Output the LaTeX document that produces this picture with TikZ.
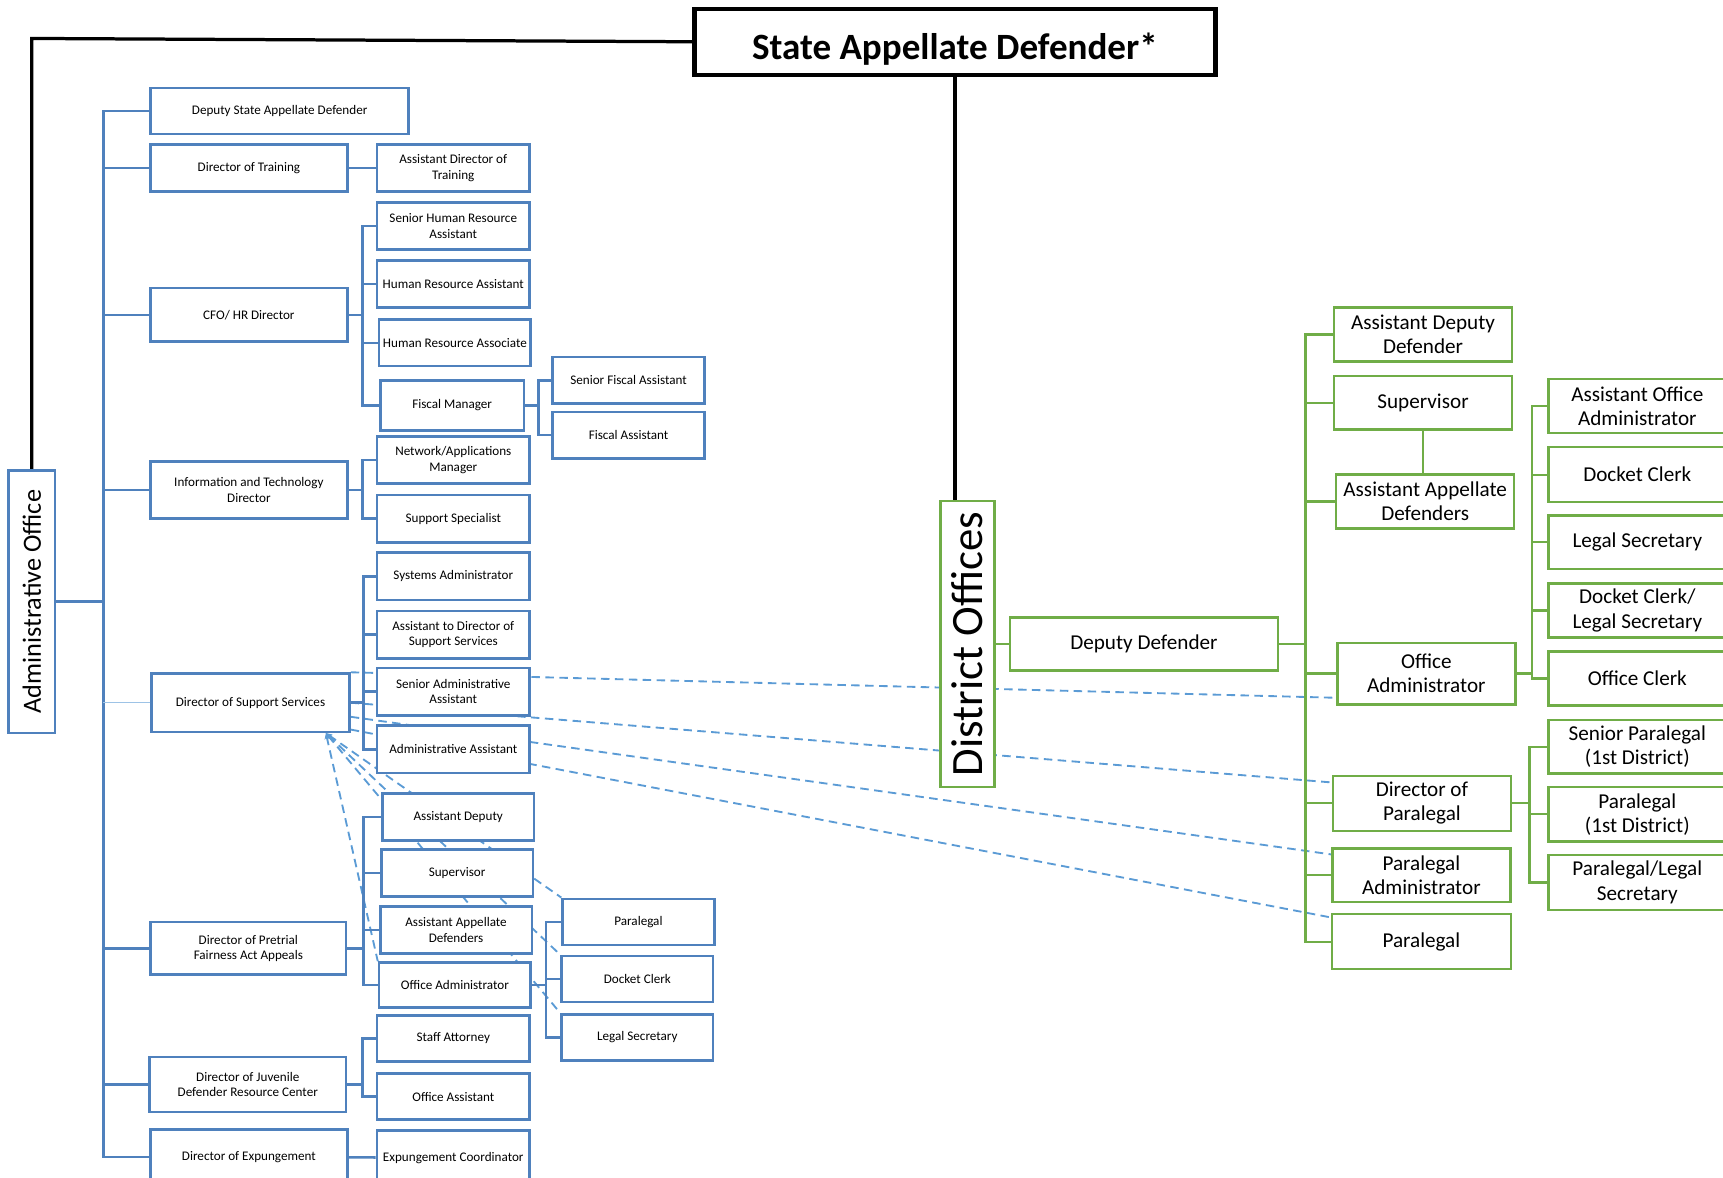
\documentclass[tikz,border=0pt]{standalone}
\usepackage{fontspec}
\setmainfont{Carlito}
\usetikzlibrary{arrows.meta}

\definecolor{boxblue}{RGB}{79,129,189}
\definecolor{dashblue}{RGB}{91,155,213}
\definecolor{lineblue}{RGB}{157,195,230}
\definecolor{boxgreen}{RGB}{112,173,71}

\pgfdeclarelayer{bg}
\pgfsetlayers{bg,main}

\tikzset{
  sz/.style 2 args={minimum width=#1*0.025cm, minimum height=#2*0.025cm},
  sbox/.style={draw=boxblue, line width=1.7pt, fill=white, align=center, inner sep=0.5pt, sz={139}{43}, font=\fontsize{8.5}{10}\selectfont},
  gbox/.style={draw=boxgreen, line width=1.6pt, fill=white, align=center, inner sep=1pt, sz={162}{49}, font=\fontsize{13.7}{15.6}\selectfont},
  bline/.style={draw=boxblue, line width=1.7pt},
  gline/.style={draw=boxgreen, line width=1.5pt},
  kline/.style={draw=black, line width=2.1pt},
  dline/.style={draw=dashblue, line width=1.2pt, dash pattern=on 5.5pt off 3.5pt},
}

\begin{document}
\begin{tikzpicture}[x=0.025cm,y=-0.025cm]
  \useasboundingbox (0,0) rectangle (1568,1072);
  \clip (0,0) rectangle (1568,1072);

  %top
  \node[draw, line width=2.8pt, fill=white, sz={474}{60}, font=\fontsize{24}{28}\selectfont\bfseries] (sad) at (869,38) {\raisebox{-0.4cm}[0pt][0pt]{State Appellate Defender*}};
  \node[sbox, rotate=90, sz={239}{42}, font=\fontsize{17}{20}\selectfont] (adm) at (29,547.5) {Administrative Office};
  \node[gbox, rotate=90, sz={260}{49}, font=\fontsize{29}{32}\selectfont] (dist) at (880.5,586) {District Offices};

  \coordinate (kink) at (29,35);
  \draw[kline] (sad.west) -- (kink) -- (adm.east);
  \draw[kline] (sad.south) -- (sad.south |- dist.east);

  %Administrative Office
  \node[sbox, sz={235}{42}] (dsad) at (254.5,101) {Deputy State Appellate Defender};
  \node[sbox, sz={179}{43}] (dtrain) at (226.5,153) {Director of Training};
  \node[sbox] (adtrain) at (412.5,153) {Assistant Director of\\Training};

  \node[sbox, sz={179}{49}] (cfo) at (226.5,286.5) {CFO/ HR Director};
  \node[sbox] (shra) at (412.5,205.5) {Senior Human Resource\\Assistant};
  \node[sbox] (hra) at (412.5,258.5) {Human Resource Assistant};
  \node[sbox, sz={138}{42}] (hras) at (414,312) {Human Resource Associate};
  \node[sbox, sz={131}{46}] (fiscal) at (411.5,369) {Fiscal Manager};
  \node[sbox, sz={138}{42}] (sfa) at (572,346) {Senior Fiscal Assistant};
  \node[sbox, sz={138}{42}] (fa) at (572,396) {Fiscal Assistant};

  \node[sbox, sz={179}{52}] (itd) at (226.5,446) {Information and Technology\\Director};
  \node[sbox] (nam) at (412.5,418.5) {Network/Applications\\Manager};
  \node[sbox] (ss) at (412.5,472) {Support Specialist};

  \node[sbox, sz={180}{53}] (dss) at (228,639.5) {Director of Support Services};
  \node[sbox] (sysadm) at (412.5,524.5) {Systems Administrator};
  \node[sbox] (adss) at (412.5,577.5) {Assistant to Director of\\Support Services};
  \node[sbox] (saa) at (412.5,629.5) {Senior Administrative\\Assistant};
  \node[sbox] (aa) at (412.5,682) {Administrative Assistant};

  \node[sbox, sz={178}{48}] (dpfa) at (226,863) {Director of Pretrial\\Fairness Act Appeals};
  \node[sbox, sz={138}{43}] (pad) at (417,743.5) {Assistant Deputy};
  \node[sbox, sz={138}{43}] (psup) at (416,794.5) {Supervisor};
  \node[sbox, sz={138}{43}] (paad) at (415,846.5) {Assistant Appellate\\Defenders};
  \node[sbox, sz={138}{41}] (poa) at (414,896.5) {Office Administrator};
  \node[sbox, sz={138}{42}] (ppara) at (581,839) {Paralegal};
  \node[sbox, sz={138}{42}] (pdc) at (580,891) {Docket Clerk};
  \node[sbox, sz={138}{42}] (pls) at (580,944) {Legal Secretary};

  \node[sbox, sz={179}{50}] (djd) at (225.5,987) {Director of Juvenile\\Defender Resource Center};
  \node[sbox, sz={139}{42}] (sa) at (412.5,945) {Staff Attorney};
  \node[sbox, sz={139}{42}] (oas) at (412.5,998) {Office Assistant};

  \node[sbox, sz={179}{50}] (dexp) at (226.5,1053) {Director of Expungement};
  \node[sbox, sz={139}{49}] (expc) at (412.5,1053.5) {Expungement Coordinator};

  \coordinate (trunk) at (94,547.5);
  \draw[bline] (adm.south) -- (trunk);
  \foreach \n in {dsad,dtrain,cfo,itd,dpfa,djd,dexp}
    \draw[bline] (\n.west) -| (trunk);
  \draw[lineblue, line width=0.8pt] (dss.west) -- (dss.west -| trunk);

  \draw[bline] (dtrain) -- (adtrain);
  \draw[bline] (dexp) -- (expc);

  \coordinate (cfoB) at (330,286.5);
  \draw[bline] (cfo.east) -- (cfoB);
  \foreach \n in {shra,hra,hras,fiscal}
    \draw[bline] (\n.west) -| (cfoB);

  \coordinate (fisB) at (490,369);
  \draw[bline] (fiscal.east) -- (fisB);
  \foreach \n in {sfa,fa}
    \draw[bline] (\n.west) -| (fisB);

  \coordinate (itB) at (330,446);
  \draw[bline] (itd.east) -- (itB);
  \foreach \n in {nam,ss}
    \draw[bline] (\n.west) -| (itB);

  \coordinate (dssB) at (331,639.5);
  \draw[bline] (dss.east) -- (dssB);
  \foreach \n in {sysadm,adss,saa,aa}
    \draw[bline] (\n.west) -| (dssB);

  \coordinate (preB) at (331,863);
  \draw[bline] (dpfa.east) -- (preB);
  \foreach \n in {pad,psup,paad,poa}
    \draw[bline] (\n.west) -| (preB);

  \coordinate (poaB) at (497,896.5);
  \draw[bline] (poa.east) -- (poaB);
  \foreach \n in {ppara,pdc,pls}
    \draw[bline] (\n.west) -| (poaB);

  \coordinate (juvB) at (330,987);
  \draw[bline] (djd.east) -- (juvB);
  \foreach \n in {sa,oas}
    \draw[bline] (\n.west) -| (juvB);

  %District Offices
  \node[gbox, sz={244}{48}] (dd) at (1041,586) {Deputy Defender};
  \node[gbox] (add) at (1295,304.5) {Assistant Deputy\\Defender};
  \node[gbox] (gsup) at (1295,366.5) {Supervisor};
  \node[gbox] (gaad) at (1297,456.5) {Assistant Appellate\\Defenders};
  \node[gbox, sz={162}{56}] (goa) at (1298,613) {Office\\Administrator};
  \node[gbox, sz={162}{50}] (dpar) at (1294,731) {Director of\\Paralegal};
  \node[gbox] (padm) at (1293.5,796.5) {Paralegal\\Administrator};
  \node[gbox, sz={163}{50}] (gpara) at (1293.5,857) {Paralegal};

  \node[gbox] (aoa) at (1490,369.5) {Assistant Office\\Administrator};
  \node[gbox, sz={162}{50}] (gdc) at (1490,432) {Docket Clerk};
  \node[gbox] (gls) at (1490,493.5) {Legal Secretary};
  \node[gbox] (dcls) at (1490,555.5) {Docket Clerk/\\Legal Secretary};
  \node[gbox] (goc) at (1490,617.5) {Office Clerk};
  \node[gbox] (spar) at (1490,679.5) {Senior Paralegal\\(1st District)};
  \node[gbox, sz={162}{50}] (par1) at (1490,741) {Paralegal\\(1st District)};
  \node[gbox, sz={162}{50}] (pls2) at (1490,803) {Paralegal/Legal\\Secretary};

  \draw[gline] (dist.south) -- (dd.west);
  \coordinate (ddB) at (1188,586);
  \draw[gline] (dd.east) -- (ddB);
  \foreach \n in {add,gsup,gaad,goa,dpar,padm,gpara}
    \draw[gline] (\n.west) -| (ddB);
  \draw[gline] (gsup.south) -- (gsup.south |- gaad.north);

  \coordinate (goaB) at (1394,613);
  \draw[gline] (goa.east) -- (goaB);
  \foreach \n in {aoa,gdc,gls,dcls,goc}
    \draw[gline] (\n.west) -| (goaB);

  \coordinate (dparB) at (1392,731);
  \draw[gline] (dpar.east) -- (dparB);
  \foreach \n in {spar,par1,pls2}
    \draw[gline] (\n.west) -| (dparB);

  %dashed links
  \begin{pgfonlayer}{bg}
    \draw[dline] (dss.north east) -- (goa.195);
    \draw[dline] (dss.east) -- (dpar.167);
    \draw[dline] (dss.-8) -- (padm.167);
    \draw[dline] (dss.-15) -- (gpara.165);
    \foreach \n in {poa,ppara,pdc,pls}
      \draw[dline, {Stealth[length=4pt,width=3.5pt]}-] (dss.-22) -- (\n.north west);
  \end{pgfonlayer}

\end{tikzpicture}
\end{document}
